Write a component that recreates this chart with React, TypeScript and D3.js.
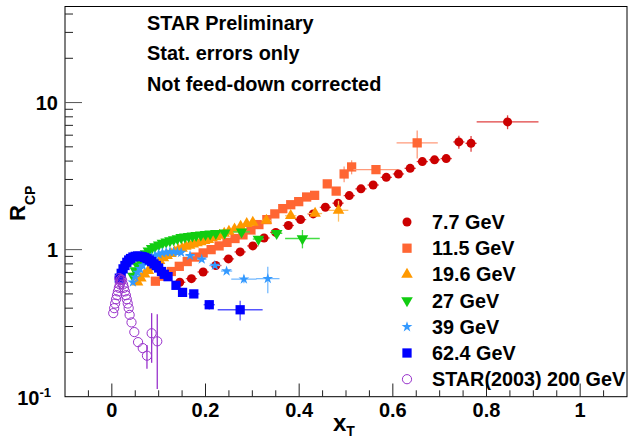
import * as d3 from "d3";
import React from "react";

// point: [xT, Rcp, xErr?, yErr?]
type Pt = [number, number, number?, number?];

const gev7: Pt[] = [
  [0.145, 0.6, 0.012], [0.17, 0.635, 0.012], [0.195, 0.705, 0.012], [0.222, 0.78, 0.012],
  [0.249, 0.865, 0.012], [0.274, 0.965, 0.012], [0.301, 1.06, 0.012], [0.325, 1.2, 0.012],
  [0.35, 1.31, 0.012], [0.377, 1.46, 0.012], [0.403, 1.6, 0.012], [0.43, 1.75, 0.012],
  [0.456, 1.94, 0.012], [0.483, 2.07, 0.012], [0.507, 2.33, 0.012], [0.532, 2.59, 0.012],
  [0.558, 2.75, 0.012], [0.586, 3.1, 0.012], [0.612, 3.27, 0.012], [0.637, 3.57, 0.012],
  [0.663, 3.97, 0.012], [0.689, 4.08, 0.012], [0.714, 4.16, 0.012], [0.741, 5.4, 0.012, 0.55],
  [0.767, 5.28, 0.012, 0.65], [0.845, 7.39, 0.066, 0.8],
];

const gev11: Pt[] = [
  [0.093, 0.61], [0.11, 0.66], [0.127, 0.71], [0.144, 0.77], [0.161, 0.83], [0.178, 0.89],
  [0.195, 0.95], [0.212, 1.0], [0.229, 1.06], [0.246, 1.12], [0.263, 1.19], [0.28, 1.26],
  [0.297, 1.36], [0.314, 1.48], [0.331, 1.6], [0.348, 1.75], [0.365, 1.9], [0.382, 2.02],
  [0.399, 2.12], [0.416, 2.28], [0.433, 2.34], [0.46, 2.8], [0.479, 2.5], [0.496, 3.27, 0, 0.4],
  [0.512, 3.65, 0, 0.4], [0.564, 3.5, 0.048, 0.15], [0.652, 5.32, 0.044, 1.15],
];

const gev19: Pt[] = [
  [0.055, 0.6], [0.062, 0.64], [0.07, 0.68], [0.078, 0.72], [0.086, 0.76], [0.094, 0.8],
  [0.102, 0.84], [0.11, 0.88], [0.118, 0.91], [0.126, 0.94], [0.134, 0.97], [0.142, 1.0],
  [0.15, 1.02], [0.158, 1.05], [0.166, 1.07], [0.174, 1.09], [0.182, 1.11], [0.19, 1.13],
  [0.198, 1.15], [0.206, 1.17], [0.214, 1.2], [0.222, 1.22], [0.23, 1.25], [0.24, 1.29],
  [0.25, 1.33], [0.262, 1.38], [0.275, 1.44], [0.288, 1.5], [0.301, 1.53], [0.33, 1.58, 0.01],
  [0.382, 1.7, 0.012], [0.434, 1.76, 0.015], [0.484, 1.85, 0.021, 0.3],
];

const gev27: Pt[] = [
  [0.045, 0.66], [0.05, 0.72], [0.055, 0.78], [0.06, 0.84], [0.066, 0.89], [0.072, 0.94],
  [0.078, 0.98], [0.085, 1.02], [0.092, 1.05], [0.1, 1.08], [0.108, 1.11], [0.116, 1.13],
  [0.124, 1.15], [0.132, 1.17], [0.14, 1.19], [0.148, 1.21], [0.156, 1.22], [0.164, 1.23],
  [0.172, 1.24], [0.18, 1.25], [0.19, 1.26], [0.2, 1.27], [0.21, 1.28], [0.222, 1.29],
  [0.241, 1.3, 0.01], [0.277, 1.32, 0.018, 0.05], [0.313, 1.18, 0.012], [0.352, 1.29, 0.012],
  [0.407, 1.19, 0.037, 0.17],
];

const gev39: Pt[] = [
  [0.045, 0.6], [0.05, 0.65], [0.055, 0.7], [0.06, 0.74], [0.066, 0.78], [0.072, 0.82],
  [0.078, 0.86], [0.085, 0.89], [0.092, 0.91], [0.1, 0.93], [0.108, 0.95], [0.116, 0.96],
  [0.124, 0.965], [0.132, 0.965], [0.14, 0.96], [0.148, 0.955], [0.167, 0.91, 0.01],
  [0.192, 0.86, 0.01], [0.22, 0.78, 0.012], [0.245, 0.715, 0.012], [0.282, 0.63, 0.027, 0.04],
  [0.333, 0.635, 0.025, 0.13],
];

const gev62: Pt[] = [
  [0.016, 0.64], [0.02, 0.69], [0.024, 0.74], [0.028, 0.78], [0.032, 0.82], [0.036, 0.85],
  [0.04, 0.87], [0.045, 0.89], [0.05, 0.9], [0.055, 0.905], [0.06, 0.9], [0.065, 0.895],
  [0.07, 0.885], [0.075, 0.87], [0.08, 0.85], [0.085, 0.83], [0.09, 0.8], [0.095, 0.78],
  [0.1, 0.75], [0.106, 0.71], [0.112, 0.68], [0.12, 0.655], [0.137, 0.572], [0.151, 0.512],
  [0.175, 0.5, 0.012], [0.208, 0.422, 0.012, 0.03], [0.274, 0.39, 0.048, 0.06],
];

const star200: Pt[] = [
  [0.003, 0.37], [0.005, 0.4], [0.007, 0.43], [0.009, 0.46], [0.011, 0.49], [0.013, 0.52],
  [0.015, 0.55], [0.017, 0.58], [0.016, 0.64], [0.018, 0.62], [0.02, 0.63], [0.022, 0.62],
  [0.019, 0.6], [0.024, 0.58], [0.026, 0.55], [0.028, 0.52], [0.03, 0.49], [0.032, 0.46],
  [0.034, 0.43], [0.036, 0.4], [0.038, 0.36], [0.042, 0.32], [0.048, 0.275], [0.056, 0.235],
  [0.066, 0.214], [0.075, 0.19, 0, 0.035], [0.085, 0.27, 0, 0.1], [0.097, 0.238, 0, 0.125],
];

const xMajor = [0, 0.2, 0.4, 0.6, 0.8, 1];
const xMajorLabels = ["0", "0.2", "0.4", "0.6", "0.8", "1"];
const notes = ["STAR Preliminary", "Stat. errors only", "Not feed-down corrected"];

type Shape = "circle" | "square" | "triUp" | "triDown" | "star" | "openCircle";
type Series = { label: string; color: string; err: string; shape: Shape; data: Pt[] };

const legendOrder: Series[] = [
  { label: "7.7 GeV", color: "#cc0000", err: "#e04040", shape: "circle", data: gev7 },
  { label: "11.5 GeV", color: "#ff6633", err: "#ff9a7a", shape: "square", data: gev11 },
  { label: "19.6 GeV", color: "#ff9900", err: "#ffc266", shape: "triUp", data: gev19 },
  { label: "27 GeV", color: "#11cc11", err: "#44dd44", shape: "triDown", data: gev27 },
  { label: "39 GeV", color: "#3399ff", err: "#77bbff", shape: "star", data: gev39 },
  { label: "62.4 GeV", color: "#0000ff", err: "#5555ff", shape: "square", data: gev62 },
  { label: "STAR(2003) 200 GeV", color: "#9933cc", err: "#9933cc", shape: "openCircle", data: star200 },
];
const drawOrder = [1, 0, 2, 3, 4, 5, 6];

const W = 629;
const H = 439;
const FONT = "'Liberation Sans', Arial, Helvetica, sans-serif";

const x = d3.scaleLinear().domain([-0.1, 1.1]).range([65, 627]);
const y = d3.scaleLog().domain([0.1, 45]).range([396.7, 6.5]);

function Marker({ shape, color, cx, cy }: { shape: Shape; color: string; cx: number; cy: number }) {
  const t = `translate(${cx},${cy})`;
  switch (shape) {
    case "circle":
      return <circle cx={cx} cy={cy} r={4.5} fill={color} />;
    case "openCircle":
      return <circle cx={cx} cy={cy} r={4.6} fill="none" stroke={color} strokeWidth={1} />;
    case "square":
      return <path transform={t} d={d3.symbol(d3.symbolSquare, 86)() ?? ""} fill={color} />;
    case "triUp":
      return <path transform={t} d={d3.symbol(d3.symbolTriangle, 58)() ?? ""} fill={color} />;
    case "triDown":
      return <path transform={`${t} rotate(180)`} d={d3.symbol(d3.symbolTriangle, 58)() ?? ""} fill={color} />;
    case "star":
      return <path transform={t} d={d3.symbol(d3.symbolStar, 36)() ?? ""} fill={color} />;
  }
}

export default function App() {
  const yMinor: number[] = [];
  for (const dec of [0.1, 1, 10]) for (let k = 2; k <= 9; k++) if (dec * k <= 45) yMinor.push(dec * k);
  const xMinor = d3.range(-0.05, 1.1, 0.05).filter((v) => Math.abs(Math.round(v * 5) - v * 5) > 1e-6);

  return (
    <svg
      width={W}
      height={H}
      style={{ position: "absolute", left: 0, top: 0, background: "#fff" }}
      fontFamily={FONT}
      fontWeight="bold"
    >
      <rect width={W} height={H} fill="#fff" />
      {/* frame */}
      <rect x={65} y={6.5} width={562} height={390.2} fill="none" stroke="#000" strokeWidth={1} />

      {/* y ticks */}
      {[1, 10].map((v) => (
        <line key={"ym" + v} x1={65} x2={82} y1={y(v)} y2={y(v)} stroke="#555" />
      ))}
      {yMinor.map((v) => (
        <line key={"yn" + v} x1={65} x2={73} y1={y(v)} y2={y(v)} stroke="#222" />
      ))}
      <text x={58} y={110} fontSize={20} textAnchor="end">10</text>
      <text x={58} y={257} fontSize={20} textAnchor="end">1</text>
      <text x={51} y={405} fontSize={20} textAnchor="end">
        10<tspan fontSize={13} dy={-8}>-1</tspan>
      </text>

      {/* x ticks */}
      {xMajor.map((v) => (
        <line key={"xm" + v} x1={x(v)} x2={x(v)} y1={396.7} y2={383.5} stroke="#222" />
      ))}
      {xMinor.map((v) => (
        <line key={"xn" + v} x1={x(v)} x2={x(v)} y1={396.7} y2={390.3} stroke="#222" />
      ))}
      {xMajor.map((v, i) => (
        <text key={"xl" + v} x={x(v)} y={417} fontSize={20} textAnchor="middle">
          {xMajorLabels[i]}
        </text>
      ))}

      {/* axis titles */}
      <text x={333} y={431} fontSize={24}>
        x<tspan fontSize={14} dy={5}>T</tspan>
      </text>
      <text transform="translate(25,221) rotate(-90)" fontSize={22}>
        R<tspan fontSize={14} dy={10}>CP</tspan>
      </text>

      {/* notes */}
      {notes.map((n, i) => (
        <text key={n} x={147} y={30 + i * 30.3} fontSize={19.9}>{n}</text>
      ))}

      {/* data */}
      {drawOrder.map((si) => {
        const s = legendOrder[si];
        return (
          <g key={s.label}>
            {s.data.map((p, j) => {
              const [px, pr, ex, ey] = p;
              return (
                <g key={j}>
                  {ex ? (
                    <line x1={x(px - ex)} x2={x(px + ex)} y1={y(pr)} y2={y(pr)} stroke={s.err} strokeWidth={1.3} />
                  ) : null}
                  {ey ? (
                    <line x1={x(px)} x2={x(px)} y1={y(Math.max(pr - ey, 0.101))} y2={y(pr + ey)} stroke={s.err} strokeWidth={1.3} />
                  ) : null}
                  <Marker shape={s.shape} color={s.color} cx={x(px)} cy={y(pr)} />
                </g>
              );
            })}
          </g>
        );
      })}

      {/* legend */}
      {legendOrder.map((s, i) => {
        const cy = 222 + i * 26.2;
        return (
          <g key={"lg" + s.label}>
            <Marker shape={s.shape} color={s.color} cx={407} cy={cy} />
            <text x={432} y={cy + 7} fontSize={19.8}>{s.label}</text>
          </g>
        );
      })}
    </svg>
  );
}
